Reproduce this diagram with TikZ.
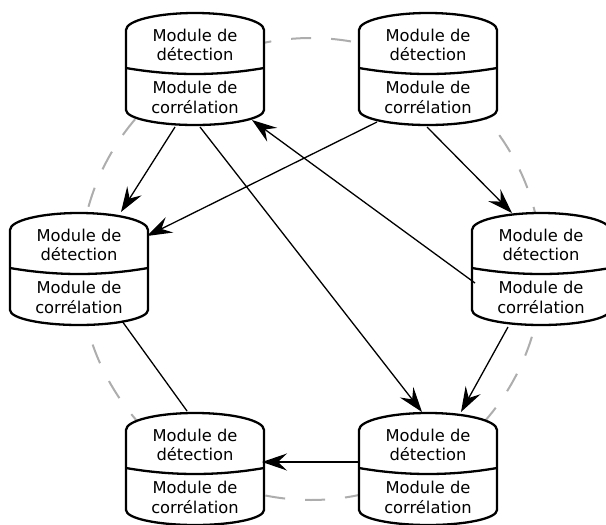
\documentclass[tikz,border=0pt]{standalone}
\usepackage{fontspec}
\setmainfont{DejaVu Sans}
\usetikzlibrary{arrows.meta}
\tikzset{
  cylbox/.style={draw=none, inner sep=0pt, minimum width=138pt, minimum height=112pt},
  cylborder/.style={line width=2.3pt, draw=black, line join=round},
  cyltext/.style={align=center, inner sep=0pt, font=\fontsize{16.3}{19.8}\selectfont},
  conn/.style={line width=1.3pt, draw=black},
  arr/.style={conn, -{Stealth[length=25pt,width=17pt,inset=9pt]}},
  ring/.style={line width=2pt, draw=black!32, dash pattern=on 20pt off 20pt, dash phase=37.2pt},
}
\newcommand\cylnode[3]{%
  \node[cylbox] (#1) at (#2,#3) {};
  \begin{scope}[shift={(#2,#3)}]
    \filldraw[cylborder, fill=white] (-69,-39) .. controls (-69,-48.4) and (-38.1,-56) .. (0,-56)
      .. controls (38.1,-56) and (69,-48.4) .. (69,-39) -- (69,41)
      .. controls (69,49.3) and (38.1,56) .. (0,56)
      .. controls (-38.1,56) and (-69,49.3) .. (-69,41) -- cycle;
    \draw[cylborder] (-69,-1) .. controls (-23,7) and (23,7) .. (69,-1);
    \node[cyltext] (#1-a) at (0,-24) {Module de\\détection};
    \node[cyltext] (#1-b) at (0,28.5) {Module de\\corrélation};
  \end{scope}}
\begin{document}
\begin{tikzpicture}[x=1pt, y=-1pt]
  \useasboundingbox (0,0) rectangle (606,525);
  \coordinate (ringc) at (311,269);
  \draw[ring] (ringc) circle[radius=231pt];
  \cylnode{TL}{195}{69}
  \cylnode{TR}{428}{69}
  \cylnode{ML}{79}{269}
  \cylnode{MR}{541}{269}
  \cylnode{BL}{195}{469}
  \cylnode{BR}{428}{469}
  % connectors
  \draw[arr] ([shift={(-20,58)}]TL.center) -- ([shift={(42,-57)}]ML.center);
  \draw[arr] ([shift={(-51,53)}]TR.center) -- ([shift={(68,-33)}]ML.center);
  \draw[arr] ([shift={(5,58)}]TL.center) -- ([shift={(-6,-57)}]BR.center);
  \draw[arr] ([shift={(-66,14)}]MR.center) -- ([shift={(57,51)}]TL.center);
  \draw[arr] ([shift={(-1,58)}]TR.center) -- ([shift={(-29,-56)}]MR.center);
  \draw[arr] ([shift={(-33,58)}]MR.center) -- ([shift={(33,-57)}]BR.center);
  \draw[arr] ([shift={(-69,-7)}]BR.center) -- ([shift={(67,-7)}]BL.center);
  \draw[conn] ([shift={(43,52)}]ML.center) -- ([shift={(-8,-58)}]BL.center);
\end{tikzpicture}
\end{document}
